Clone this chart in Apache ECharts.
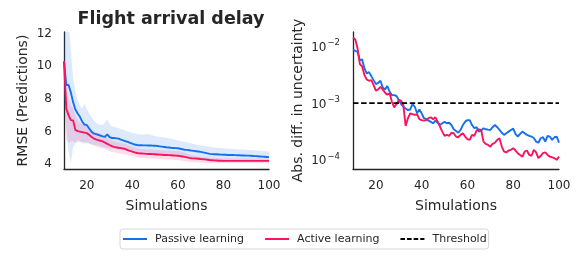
<!DOCTYPE html>
<html>
<head>
<meta charset="utf-8">
<script src="https://cdn.jsdelivr.net/npm/echarts@6/dist/echarts.min.js"></script>
<style>html,body{margin:0;padding:0;background:#fff}#c{width:581px;height:256px}</style>
</head>
<body>
<div id="c"></div>
<script>
// ---- data ----
const simulations = [10,11,12,13,14,15,16,17,18,19,20,21,22,23,24,25,26,27,28,29,30,31,32,33,34,35,36,37,38,39,40,41,42,43,44,45,46,47,48,49,50,51,52,53,54,55,56,57,58,59,60,61,62,63,64,65,66,67,68,69,70,71,72,73,74,75,76,77,78,79,80,81,82,83,84,85,86,87,88,89,90,91,92,93,94,95,96,97,98,99,100];
const xTicks = [20, 40, 60, 80, 100];
const rmseTicks = [4, 6, 8, 10, 12];
const uncTicks = [1e-4, 1e-3, 1e-2];
const threshold = 1e-3;

// RMSE (left)
const passiveRmse = [10.3,8.85,8.85,8.4,7.8,7.35,7.1,6.9,6.6,6.42,6.4,6.2,6.0,5.88,5.84,5.8,5.75,5.7,5.68,5.82,5.65,5.6,5.6,5.58,5.56,5.5,5.45,5.4,5.36,5.3,5.25,5.2,5.17,5.16,5.16,5.15,5.15,5.14,5.14,5.13,5.13,5.11,5.09,5.07,5.05,5.03,5.02,5.0,4.99,4.98,4.97,4.94,4.91,4.88,4.87,4.85,4.83,4.81,4.79,4.77,4.75,4.72,4.69,4.66,4.63,4.61,4.6,4.6,4.59,4.58,4.57,4.57,4.56,4.56,4.56,4.55,4.54,4.54,4.53,4.53,4.52,4.52,4.51,4.5,4.49,4.48,4.47,4.46,4.45,4.44,4.43];
const passiveUpper = [13.5,13.5,13.0,11.0,9.3,8.4,7.9,7.6,7.4,7.7,7.4,7.1,6.9,6.7,6.55,6.45,6.4,6.4,6.55,6.75,6.45,6.3,6.3,6.25,6.2,6.15,6.1,6.05,6.0,5.95,5.9,5.87,5.85,5.83,5.82,5.82,5.83,5.85,5.8,5.75,5.72,5.7,5.68,5.66,5.63,5.6,5.58,5.55,5.52,5.48,5.45,5.42,5.38,5.35,5.32,5.3,5.27,5.24,5.2,5.17,5.15,5.12,5.1,5.08,5.06,5.04,5.02,5.0,4.99,4.98,4.97,4.96,4.95,4.94,4.93,4.92,4.91,4.9,4.89,4.89,4.88,4.87,4.86,4.85,4.84,4.83,4.82,4.81,4.8,4.79,4.78];
const passiveLower = [7.8,6.2,4.8,4.05,5.0,5.3,5.5,5.4,5.3,5.25,5.3,5.25,5.2,5.2,5.15,5.15,5.1,5.05,5.0,5.0,4.95,4.95,4.93,4.9,4.9,4.85,4.83,4.8,4.78,4.75,4.72,4.7,4.68,4.67,4.66,4.65,4.64,4.63,4.62,4.61,4.6,4.59,4.58,4.57,4.56,4.55,4.54,4.53,4.52,4.51,4.5,4.49,4.48,4.46,4.45,4.43,4.42,4.4,4.39,4.37,4.36,4.35,4.33,4.32,4.31,4.3,4.29,4.28,4.27,4.26,4.25,4.24,4.24,4.23,4.23,4.22,4.22,4.21,4.21,4.2,4.2,4.2,4.19,4.19,4.18,4.18,4.18,4.17,4.17,4.16,4.16];
const activeRmse = [10.3,7.4,7.0,6.7,6.68,6.1,6.02,5.99,5.96,5.93,5.9,5.8,5.68,5.58,5.52,5.47,5.43,5.39,5.32,5.24,5.17,5.1,5.06,5.03,5.0,4.98,4.96,4.92,4.86,4.81,4.77,4.72,4.68,4.66,4.65,4.64,4.63,4.62,4.62,4.61,4.6,4.59,4.58,4.57,4.56,4.56,4.55,4.54,4.53,4.52,4.51,4.49,4.47,4.44,4.41,4.38,4.36,4.35,4.34,4.33,4.31,4.3,4.29,4.27,4.25,4.24,4.23,4.22,4.21,4.21,4.2,4.2,4.2,4.2,4.2,4.2,4.2,4.2,4.2,4.2,4.2,4.2,4.2,4.2,4.2,4.2,4.2,4.2,4.2,4.2,4.2];
const activeUpper = [10.6,8.6,8.0,7.6,7.4,7.0,6.7,6.55,6.45,6.4,6.3,6.2,6.1,6.0,5.95,5.9,5.85,5.8,5.72,5.62,5.52,5.45,5.4,5.37,5.33,5.3,5.27,5.23,5.17,5.12,5.07,5.02,4.98,4.95,4.93,4.92,4.91,4.9,4.9,4.89,4.88,4.87,4.86,4.85,4.84,4.84,4.83,4.82,4.81,4.8,4.79,4.77,4.74,4.7,4.65,4.6,4.56,4.53,4.5,4.48,4.46,4.44,4.43,4.41,4.4,4.39,4.38,4.37,4.37,4.36,4.36,4.36,4.35,4.35,4.35,4.35,4.35,4.34,4.34,4.34,4.34,4.34,4.34,4.34,4.33,4.33,4.33,4.33,4.33,4.33,4.33];
const activeLower = [9.6,5.5,5.3,5.4,5.4,5.3,5.35,5.35,5.35,5.35,5.35,5.3,5.2,5.12,5.08,5.04,5.0,4.97,4.92,4.86,4.8,4.75,4.72,4.69,4.66,4.64,4.62,4.59,4.55,4.5,4.47,4.43,4.4,4.39,4.38,4.37,4.36,4.35,4.35,4.34,4.33,4.32,4.31,4.3,4.29,4.29,4.28,4.27,4.26,4.25,4.24,4.22,4.2,4.18,4.16,4.14,4.13,4.12,4.11,4.1,4.09,4.09,4.08,4.08,4.07,4.07,4.07,4.06,4.06,4.06,4.07,4.07,4.06,4.06,4.06,4.06,4.05,4.05,4.05,4.05,4.05,4.05,4.05,4.05,4.05,4.05,4.05,4.05,4.05,4.05,4.05];

// Abs. diff. in uncertainty (right)
const passiveUnc = [8.74e-3,8.28e-3,7.95e-3,5.68e-3,5.83e-3,4.06e-3,3.31e-3,3.50e-3,2.98e-3,2.53e-3,2.15e-3,2.27e-3,2.47e-3,1.88e-3,1.74e-3,1.99e-3,1.58e-3,1.38e-3,1.38e-3,1.33e-3,1.13e-3,9.6e-4,8.6e-4,8.0e-4,7.5e-4,7.7e-4,9.6e-4,8.6e-4,6.6e-4,7.7e-4,6.6e-4,5.4e-4,5.2e-4,4.9e-4,4.65e-4,4.4e-4,4.9e-4,4.5e-4,4.1e-4,4.4e-4,4.65e-4,4.4e-4,4.5e-4,4.1e-4,3.45e-4,3.23e-4,3.0e-4,3.36e-4,4.1e-4,4.7e-4,5.0e-4,5.0e-4,4.1e-4,3.6e-4,3.75e-4,3.14e-4,3.27e-4,3.6e-4,3.45e-4,3.4e-4,3.36e-4,3.75e-4,4.1e-4,3.75e-4,3.36e-4,3.0e-4,2.75e-4,2.94e-4,3.14e-4,3.36e-4,3.55e-4,2.86e-4,2.57e-4,2.86e-4,3.14e-4,2.94e-4,2.75e-4,2.64e-4,2.57e-4,2.43e-4,2.1e-4,2.0e-4,2.4e-4,2.5e-4,2.1e-4,2.64e-4,2.57e-4,2.24e-4,2.5e-4,2.57e-4,2.0e-4];
const activeUnc = [1.42e-2,1.31e-2,9.1e-3,4.83e-3,4.40e-3,3.10e-3,2.60e-3,2.47e-3,2.53e-3,2.07e-3,1.65e-3,1.74e-3,1.93e-3,1.74e-3,1.52e-3,1.40e-3,1.48e-3,1.05e-3,8.4e-4,9.6e-4,1.13e-3,1.10e-3,9.2e-4,3.95e-4,5.4e-4,6.6e-4,6.4e-4,6.2e-4,6.4e-4,5.2e-4,5.0e-4,4.9e-4,5.0e-4,5.4e-4,5.6e-4,5.2e-4,5.6e-4,4.7e-4,3.85e-4,3.14e-4,2.64e-4,2.75e-4,2.64e-4,3.0e-4,2.94e-4,2.57e-4,2.5e-4,2.75e-4,2.94e-4,2.57e-4,2.31e-4,2.24e-4,2.75e-4,2.64e-4,3.27e-4,3.45e-4,3.36e-4,2.1e-4,1.91e-4,1.83e-4,1.71e-4,1.91e-4,2.0e-4,2.24e-4,2.4e-4,1.71e-4,1.4e-4,1.35e-4,1.46e-4,1.5e-4,1.6e-4,1.46e-4,1.31e-4,1.22e-4,1.14e-4,1.4e-4,1.46e-4,1.22e-4,1.18e-4,1.5e-4,1.35e-4,1.07e-4,1.18e-4,1.31e-4,1.35e-4,1.22e-4,1.14e-4,1.11e-4,1.07e-4,1.0e-4,1.14e-4];

// ---- styling ----
const BLUE = '#1670ee';
const RED = '#f8145e';
const TXT = '#262626';
const FONT = 'DejaVu Sans';
const LW = 1.9;

const pairs = (ys) => simulations.map((x, i) => [x, ys[i]]);

const baseX = (gi) => ({
  type: 'value', gridIndex: gi, min: 10, max: 100,
  name: 'Simulations', nameLocation: 'middle', nameGap: 30,
  nameTextStyle: { fontSize: 14, color: TXT, fontFamily: FONT },
  axisLine: { show: true, lineStyle: { color: TXT, width: 1.3 } },
  axisTick: { show: false },
  splitLine: { show: false },
  axisLabel: { customValues: xTicks, fontSize: 12, color: TXT, fontFamily: FONT, margin: 11 }
});

const lineS = (name, data, color, xi, extra) => Object.assign({
  name, type: 'line', xAxisIndex: xi, yAxisIndex: xi, data,
  symbol: 'none', showSymbol: false, lineStyle: { color, width: LW }, itemStyle: { color },
  emphasis: { disabled: true }, z: 3
}, extra || {});

// confidence band drawn as one polygon through the axis scales
const band = (name, lo, hi, fill) => ({
  name, type: 'custom', xAxisIndex: 0, yAxisIndex: 0, silent: true, z: 1,
  data: [[simulations[0], lo[0]]],
  renderItem: (params, api) => {
    const top = simulations.map((x, i) => api.coord([x, hi[i]]));
    const bot = simulations.map((x, i) => api.coord([x, lo[i]])).reverse();
    const cs = params.coordSys;
    return {
      type: 'group',
      clipPath: { type: 'rect', shape: { x: cs.x, y: cs.y, width: cs.width, height: cs.height } },
      children: [{ type: 'polygon', shape: { points: top.concat(bot) }, style: { fill, stroke: null } }]
    };
  }
});

// legend icons: a thin centred stripe (bounding-box markers keep the 24x12 frame)
const frame = 'M0,0h0.01v0.01h-0.01z M23.99,11.99h0.01v0.01h-0.01z ';
const solidIcon = 'path://' + frame + 'M0,5.05h24v1.9h-24z';
const dashIcon = 'path://' + frame + 'M0,5.05h4.6v1.9h-4.6z M6.6,5.05h4.6v1.9h-4.6z M13.2,5.05h4.6v1.9h-4.6z M19.8,5.05h4.2v1.9h-4.2z';

const option = {
  animation: false,
  textStyle: { fontFamily: FONT },
  title: {
    text: 'Flight arrival delay', left: 166, top: 5, textAlign: 'center',
    textStyle: { fontSize: 17.5, fontWeight: 'bold', color: TXT, fontFamily: FONT }
  },
  legend: {
    data: [
      { name: 'Passive learning', icon: solidIcon },
      { name: 'Active learning', icon: solidIcon },
      { name: 'Threshold', icon: dashIcon }
    ],
    left: 120, top: 229, itemWidth: 24, itemHeight: 12, itemGap: 21,
    padding: [4, 2, 4, 3], borderColor: '#d6d6d6', borderWidth: 1, borderRadius: 3,
    itemStyle: { borderWidth: 0 },
    textStyle: { fontSize: 11, color: TXT, fontFamily: FONT, padding: [0, 0, 0, 3] },
    selectedMode: false
  },
  grid: [
    { left: 64, top: 32, width: 205, height: 137 },
    { left: 353, top: 32, width: 206, height: 137 }
  ],
  xAxis: [baseX(0), baseX(1)],
  yAxis: [
    {
      type: 'value', gridIndex: 0, min: 3.7, max: 12.1,
      name: 'RMSE (Predictions)', nameLocation: 'middle', nameGap: 34,
      nameTextStyle: { fontSize: 14, color: TXT, fontFamily: FONT },
      axisLine: { show: true, lineStyle: { color: TXT, width: 1.3 } },
      axisTick: { show: false }, splitLine: { show: false },
      axisLabel: { customValues: rmseTicks, fontSize: 12, color: TXT, fontFamily: FONT, margin: 12 }
    },
    {
      type: 'log', logBase: 10, gridIndex: 1, min: 6.9e-5, max: 1.78e-2,
      name: 'Abs. diff. in uncertainty', nameLocation: 'middle', nameGap: 48,
      nameTextStyle: { fontSize: 14, color: TXT, fontFamily: FONT },
      axisLine: { show: true, lineStyle: { color: TXT, width: 1.3 } },
      axisTick: { show: false }, splitLine: { show: false }, minorTick: { show: false },
      axisLabel: {
        customValues: uncTicks, color: TXT, fontFamily: FONT, margin: 13,
        formatter: (v) => '{b|10}{s|\u2212' + Math.round(-Math.log10(v)) + '}',
        rich: {
          b: { fontSize: 12, lineHeight: 15, verticalAlign: 'bottom', color: TXT, fontFamily: FONT },
          s: { fontSize: 8.5, verticalAlign: 'top', color: TXT, fontFamily: FONT, padding: [0, 0, 0, 1] }
        }
      }
    }
  ],
  series: [
    band('pBand', passiveLower, passiveUpper, 'rgba(22,112,238,0.15)'),
    band('aBand', activeLower, activeUpper, 'rgba(248,20,94,0.14)'),
    lineS('Passive learning', pairs(passiveRmse), BLUE, 0),
    lineS('Active learning', pairs(activeRmse), RED, 0),
    lineS('Passive learning', pairs(passiveUnc), BLUE, 1),
    lineS('Active learning', pairs(activeUnc), RED, 1),
    lineS('Threshold', simulations.map((x) => [x, threshold]), '#000000', 1,
      { lineStyle: { color: '#000000', width: 1.8, type: [5.5, 2.6] }, z: 4 })
  ]
};

const chart = echarts.init(document.getElementById('c'), null, { renderer: 'canvas' });
chart.setOption(option);
</script>
</body>
</html>
